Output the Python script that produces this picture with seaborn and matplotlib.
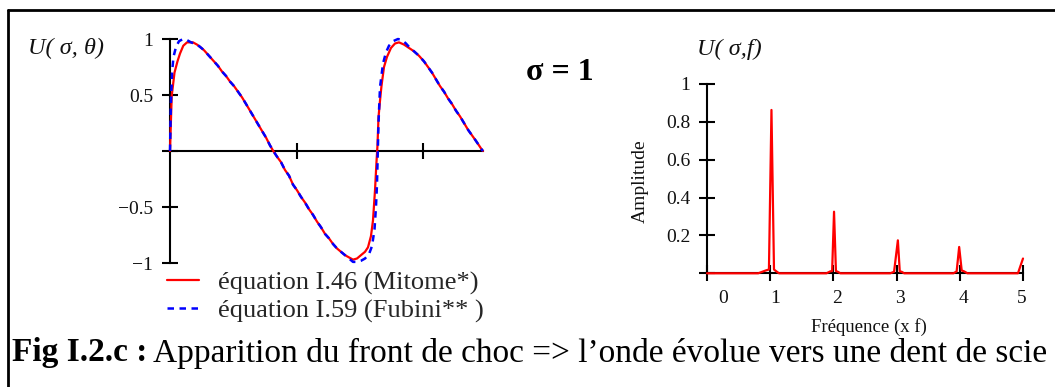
import matplotlib
matplotlib.use("Agg")
import matplotlib.pyplot as plt
import matplotlib.transforms as mtransforms
from matplotlib.lines import Line2D
import seaborn as sns

# Waveform at sigma = 1 : U(sigma, theta), theta in time units
theta_mitome = [0.000, 0.027, 0.071, 0.118, 0.158, 0.210, 0.269, 0.363, 0.427, 0.474,
                0.537, 0.600, 0.679, 0.758, 0.821, 0.885, 0.948, 1.011, 1.074, 1.137,
                1.201, 1.264, 1.327, 1.390, 1.453, 1.517, 1.580, 1.632, 1.690, 1.754,
                1.817, 1.880, 1.943, 2.006, 2.070, 2.133, 2.196, 2.259, 2.322, 2.385,
                2.449, 2.512, 2.575, 2.638, 2.701, 2.765, 2.828, 2.891, 2.954, 3.017,
                3.081, 3.128, 3.175, 3.207, 3.239, 3.262, 3.278, 3.294, 3.318, 3.341,
                3.381, 3.428, 3.491, 3.555, 3.618, 3.697, 3.776, 3.855, 3.934, 4.013,
                4.076, 4.139, 4.202, 4.265, 4.329, 4.392, 4.455, 4.518, 4.581, 4.645,
                4.708, 4.771, 4.834, 4.882, 4.929, 4.945]
u_mitome = [0.00, 0.49, 0.70, 0.80, 0.87, 0.94, 0.97, 0.97, 0.95, 0.93,
            0.90, 0.86, 0.81, 0.76, 0.71, 0.67, 0.62, 0.58, 0.53, 0.48,
            0.42, 0.36, 0.30, 0.24, 0.18, 0.12, 0.05, 0.00, -0.05, -0.10,
            -0.17, -0.22, -0.30, -0.35, -0.41, -0.46, -0.52, -0.57, -0.63, -0.68,
            -0.74, -0.78, -0.83, -0.87, -0.90, -0.93, -0.95, -0.97, -0.96, -0.93,
            -0.90, -0.86, -0.76, -0.62, -0.35, -0.10, 0.05, 0.30, 0.45, 0.58,
            0.75, 0.84, 0.92, 0.96, 0.97, 0.95, 0.92, 0.89, 0.85, 0.80,
            0.75, 0.70, 0.64, 0.58, 0.53, 0.47, 0.42, 0.36, 0.31, 0.25,
            0.19, 0.14, 0.09, 0.05, 0.01, 0.00]

theta_fubini = [0.000, 0.013, 0.032, 0.055, 0.095, 0.142, 0.205, 0.269, 0.332, 0.427,
                0.474, 0.537, 0.600, 0.679, 0.758, 0.821, 0.885, 0.948, 1.011, 1.074,
                1.137, 1.201, 1.264, 1.327, 1.390, 1.453, 1.517, 1.580, 1.632, 1.690,
                1.754, 1.817, 1.880, 1.943, 2.006, 2.070, 2.133, 2.196, 2.259, 2.322,
                2.385, 2.449, 2.512, 2.575, 2.638, 2.701, 2.765, 2.828, 2.891, 2.954,
                3.017, 3.081, 3.144, 3.191, 3.231, 3.254, 3.270, 3.283, 3.294, 3.318,
                3.365, 3.412, 3.460, 3.523, 3.602, 3.665, 3.728, 3.776, 3.855, 3.934,
                4.013, 4.076, 4.139, 4.202, 4.265, 4.329, 4.392, 4.455, 4.518, 4.581,
                4.645, 4.708, 4.771, 4.834, 4.882, 4.929, 4.945]
u_fubini = [0.00, 0.40, 0.70, 0.84, 0.93, 0.98, 1.00, 0.99, 0.97, 0.95,
            0.93, 0.90, 0.86, 0.81, 0.76, 0.71, 0.67, 0.62, 0.58, 0.53,
            0.48, 0.42, 0.36, 0.30, 0.24, 0.18, 0.12, 0.05, 0.00, -0.05,
            -0.10, -0.17, -0.22, -0.30, -0.35, -0.41, -0.46, -0.52, -0.57, -0.63,
            -0.68, -0.74, -0.78, -0.83, -0.87, -0.90, -0.93, -0.96, -0.99, -0.99,
            -0.98, -0.96, -0.92, -0.85, -0.70, -0.50, -0.30, 0.00, 0.25, 0.57,
            0.78, 0.88, 0.94, 0.98, 1.00, 0.99, 0.96, 0.93, 0.89, 0.85,
            0.80, 0.75, 0.70, 0.64, 0.58, 0.53, 0.47, 0.42, 0.36, 0.31,
            0.25, 0.19, 0.14, 0.09, 0.05, 0.01, 0.00]

# Spectrum U(sigma, f): amplitude vs frequency (multiples of f)
freq = [0.00, 0.81, 0.93, 0.98, 1.02, 1.06, 1.09, 1.14,
        1.89, 1.95, 1.98, 2.01, 2.04, 2.07, 2.11,
        2.90, 2.96, 3.02, 3.05, 3.08, 3.12,
        3.90, 3.95, 3.99, 4.03, 4.07, 4.12,
        4.92, 5.00]
amplitude = [0.000, 0.000, 0.015, 0.020, 0.862, 0.020, 0.012, 0.000,
             0.000, 0.010, 0.012, 0.325, 0.012, 0.008, 0.000,
             0.000, 0.008, 0.174, 0.010, 0.008, 0.000,
             0.000, 0.010, 0.139, 0.015, 0.010, 0.000,
             0.000, 0.078]

label_mitome = "équation I.46 (Mitome*)"
label_fubini = "équation I.59 (Fubini** )"

theta_ticks = [2, 4]
u_ticks = [-1, -0.5, 0, 0.5, 1]
u_ticklabels = ["\u22121", "\u22120.5", "", "0.5", "1"]
freq_ticks = [0, 1, 2, 3, 4, 5]
freq_ticklabels = ["0", "1", "2", "3", "4", "5"]
amp_ticks = [0, 0.2, 0.4, 0.6, 0.8, 1]
amp_ticklabels = ["", "0.2", "0.4", "0.6", "0.8", "1"]

sns.set_theme(style="white")
plt.rcParams["font.family"] = ["Liberation Serif", "DejaVu Serif"]
plt.rcParams["axes.linewidth"] = 1.5

W, H = 1055, 387
fig = plt.figure(figsize=(W / 100, H / 100), dpi=100)
fig.patch.set_facecolor("white")


def box(left, top, right, bottom):
    return [left / W, 1 - bottom / H, (right - left) / W, (bottom - top) / H]


def px(x, y):
    return x / W, 1 - y / H


# ---- waveform panel ----
ax1 = fig.add_axes(box(170, 39, 483, 263))
sns.lineplot(x=theta_mitome, y=u_mitome, ax=ax1, color="#ff0000", lw=1.6,
             estimator=None, sort=False, label=label_mitome, zorder=3)
sns.lineplot(x=theta_fubini, y=u_fubini, ax=ax1, color="#0000ff", lw=1.8,
             estimator=None, sort=False, label=label_fubini, zorder=4,
             linestyle=(0, (2.6, 2.2)))
for ln in ax1.lines:
    ln.set_clip_on(False)
ax1.set_xlim(0, theta_fubini[-1])
ax1.set_ylim(-1, 1)
ax1.set_facecolor("none")
for s in ("top", "right"):
    ax1.spines[s].set_visible(False)
ax1.spines["bottom"].set_position(("data", 0))
for s in ("left", "bottom"):
    ax1.spines[s].set_color("black")
    ax1.spines[s].set_linewidth(1.5)
ax1.set_xticks(theta_ticks)
ax1.set_xticklabels([])
ax1.set_yticks(u_ticks)
ax1.set_yticklabels(u_ticklabels)
ax1.tick_params(direction="inout", length=12, width=1.5, color="black",
                labelsize=14, labelcolor="#111111")
ax1.tick_params(axis="y", pad=6, left=True)
ax1.tick_params(axis="x", bottom=True)
ax1.set_xlabel("")
ax1.set_ylabel("")

handles, labels = ax1.get_legend_handles_labels()
ax1.legend(handles, labels, loc="upper left", bbox_to_anchor=px(167, 271),
           bbox_transform=fig.transFigure, frameon=False, borderpad=0,
           borderaxespad=0, handlelength=1.2, handletextpad=0.72,
           labelspacing=0.15, fontsize=19)

# ---- spectrum panel ----
ax2 = fig.add_axes(box(707, 83.8, 1023, 273.3))
sns.lineplot(x=freq, y=amplitude, ax=ax2, color="#ff0000", lw=1.6,
             estimator=None, sort=False, zorder=3)
for ln in ax2.lines:
    ln.set_clip_on(False)
ax2.set_xlim(0, 5)
ax2.set_ylim(0, 1)
ax2.set_facecolor("none")
for s in ("top", "right"):
    ax2.spines[s].set_visible(False)
for s in ("left", "bottom"):
    ax2.spines[s].set_color("black")
    ax2.spines[s].set_linewidth(1.5)
ax2.set_xticks(freq_ticks)
ax2.set_xticklabels(freq_ticklabels)
ax2.set_yticks(amp_ticks)
ax2.set_yticklabels(amp_ticklabels)
ax2.tick_params(direction="inout", length=12, width=1.5, color="black",
                labelsize=14, labelcolor="#111111")
ax2.tick_params(axis="y", pad=6, left=True)
ax2.tick_params(axis="x", pad=6, bottom=True)
label_shift_px = [16, 5, 4, 3, 4, -1]
for lab, dx in zip(ax2.get_xticklabels(), label_shift_px):
    lab.set_transform(lab.get_transform() +
                      mtransforms.ScaledTranslation(dx / 100, 0, fig.dpi_scale_trans))
ax2.set_xlabel("")
ax2.set_ylabel("")

# ---- texts ----
fig.text(*px(28, 48), "U( σ, θ)", fontsize=17.5, style="italic",
         ha="left", va="center", color="#111111")
fig.text(*px(697, 49), "U( σ,f)", fontsize=17.5, style="italic",
         ha="left", va="center", color="#111111")
fig.text(*px(526, 73), "σ = 1", fontsize=23, fontweight="bold",
         ha="left", va="center", color="black")
fig.text(*px(640, 181), "Amplitude", fontsize=14, rotation=90,
         ha="center", va="center", color="#111111")
fig.text(*px(869, 327), "Fréquence (x f)", fontsize=13.5,
         ha="center", va="center", color="#111111")

# caption: bold figure number followed by regular text
cap_y = 1 - 353 / H
t_bold = fig.text(12 / W, cap_y, "Fig I.2.c :", fontsize=24, fontweight="bold",
                  ha="left", va="center", color="black")
renderer = fig.canvas.get_renderer()
bb = t_bold.get_window_extent(renderer)
fig.text((bb.x1 + 6) / W, cap_y,
         "Apparition du front de choc => l\u2019onde évolue vers une dent de scie",
         fontsize=24, ha="left", va="center", color="black")

# frame lines (left and top)
fig.add_artist(Line2D([8 / W, 8 / W], [0, 1 - 10 / H], transform=fig.transFigure,
                      color="black", lw=2.0))
fig.add_artist(Line2D([8 / W, 1], [1 - 10 / H, 1 - 10 / H], transform=fig.transFigure,
                      color="black", lw=2.0))

fig.savefig("out.png", dpi=100)
